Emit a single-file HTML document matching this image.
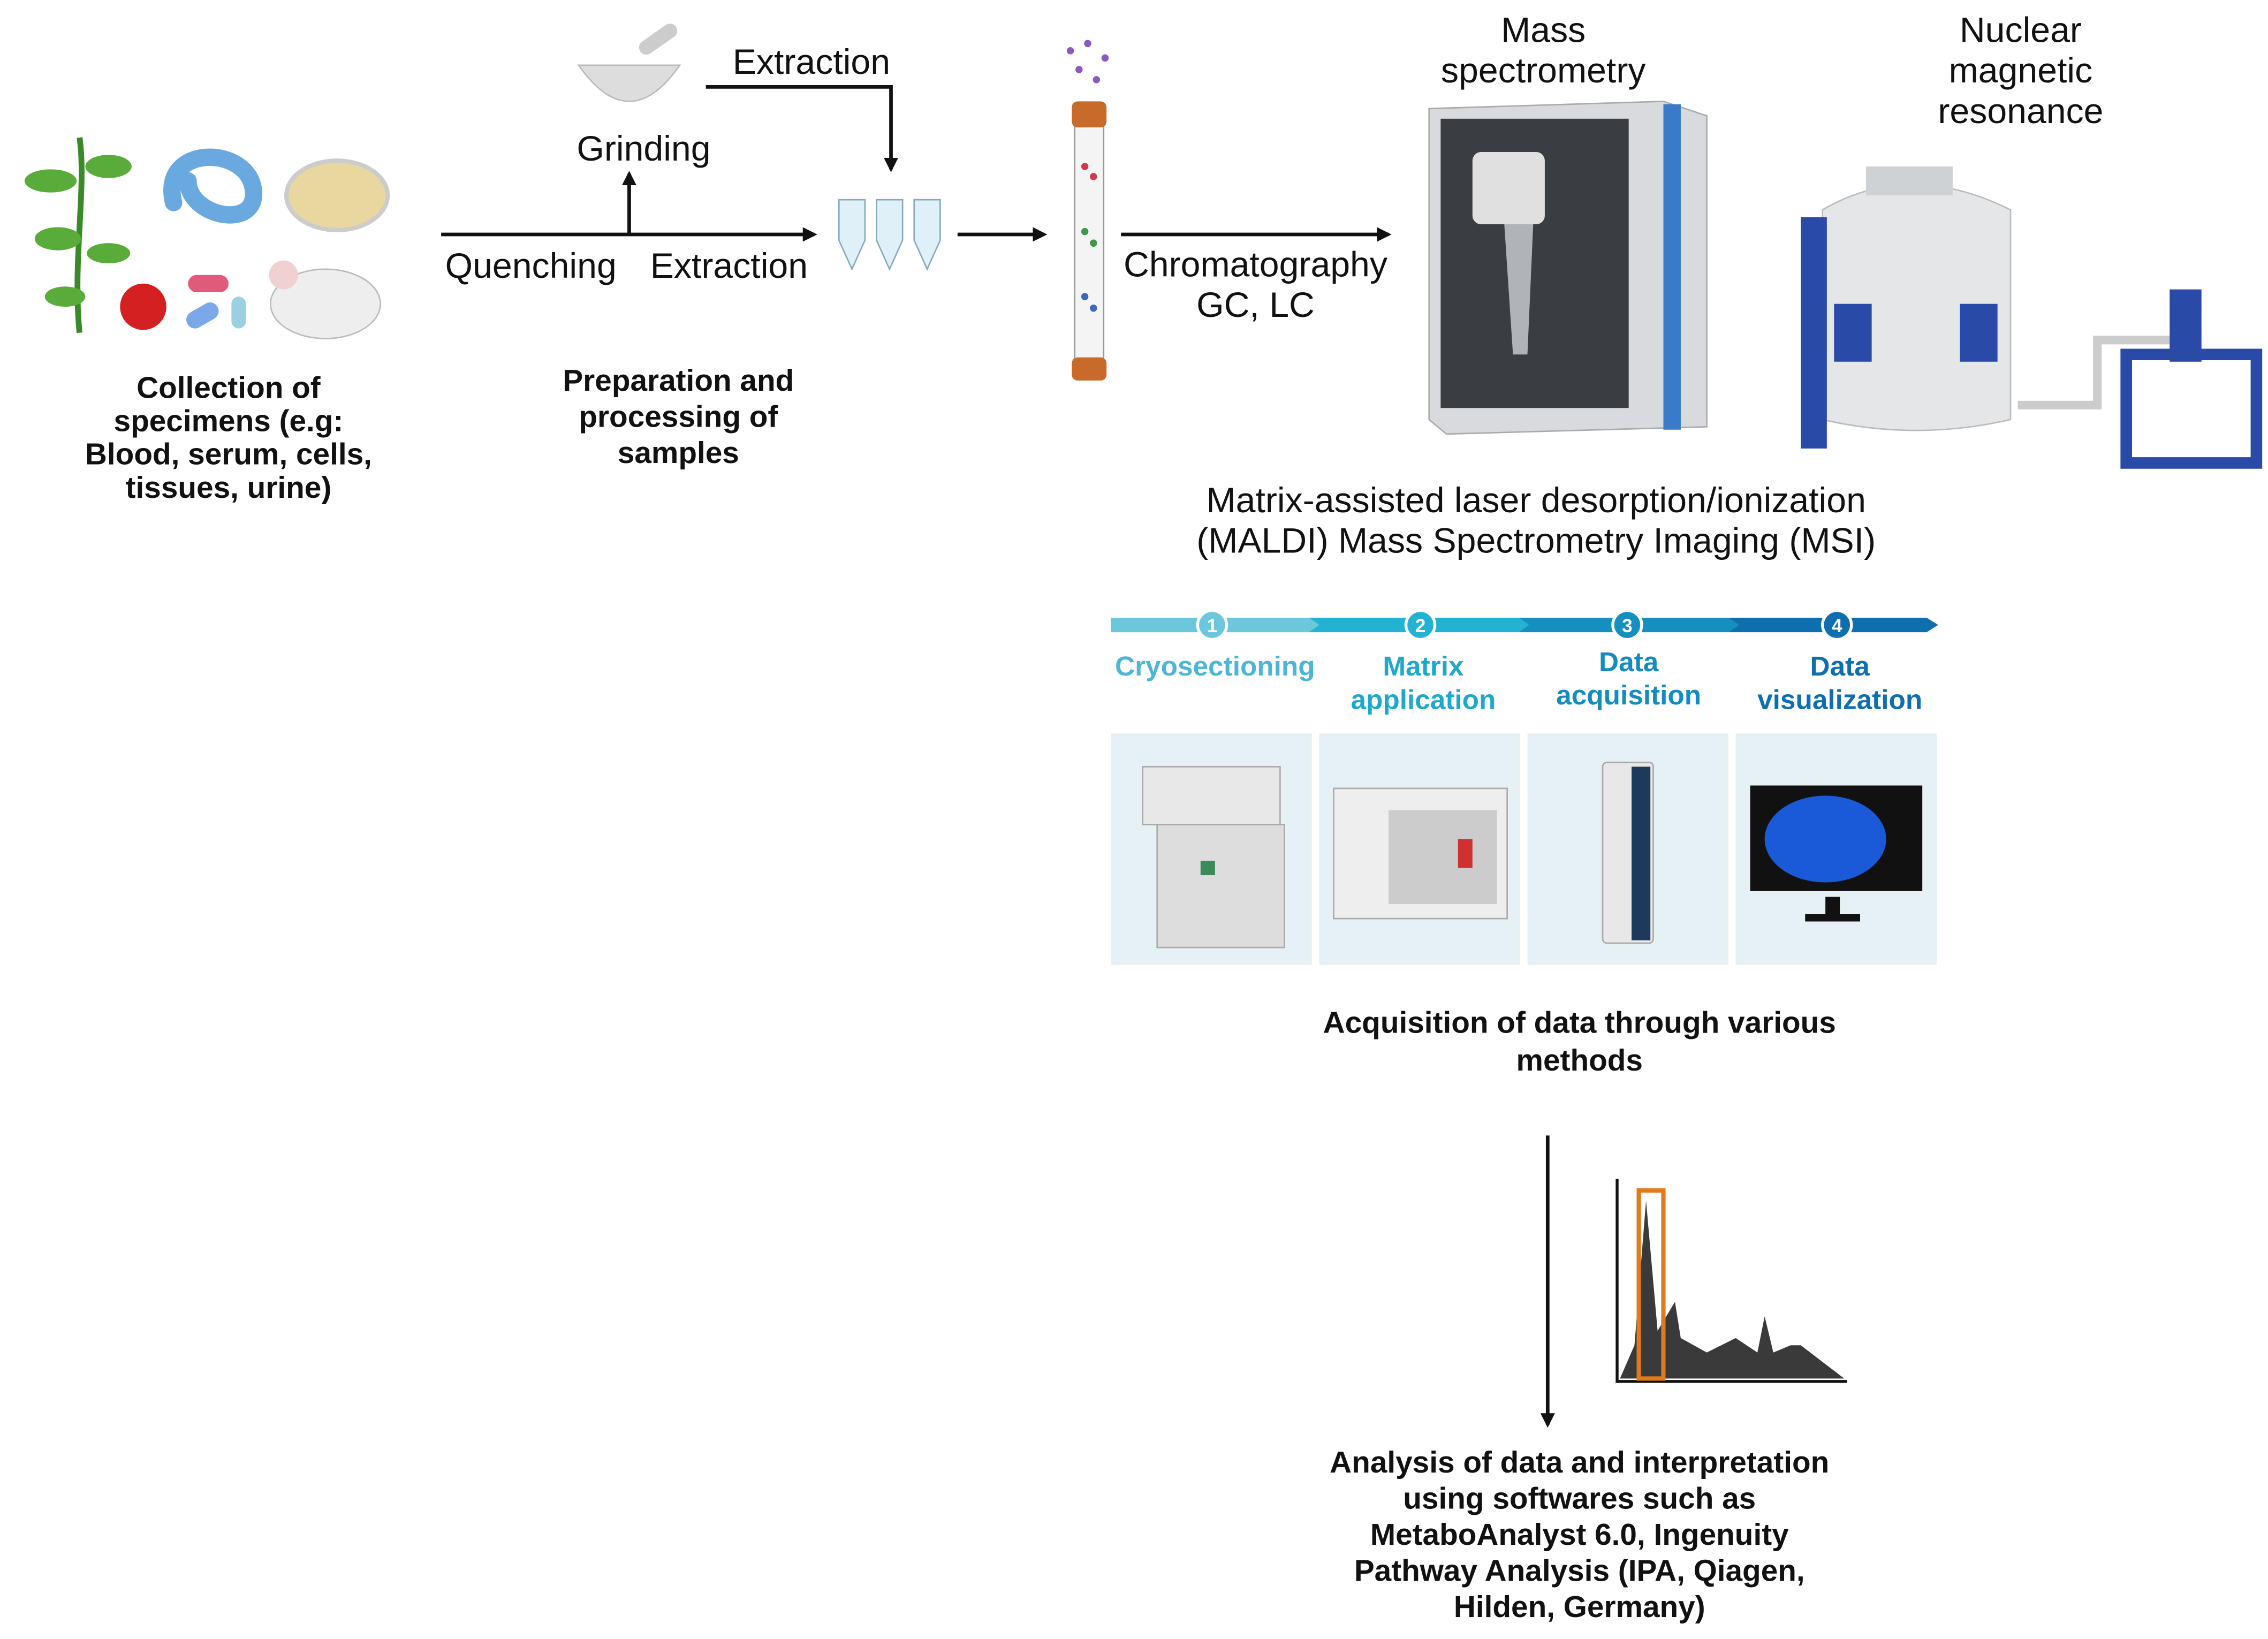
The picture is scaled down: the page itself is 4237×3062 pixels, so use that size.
<!DOCTYPE html>
<html><head><meta charset="utf-8"><style>
html,body{margin:0;padding:0;background:#fff;}
svg{display:block;}
text{font-family:"Liberation Sans",sans-serif;}
.r{font-size:24.5px;fill:#111;text-anchor:middle;}
.b{font-size:21px;font-weight:bold;fill:#111;text-anchor:middle;}
.c{font-size:19px;font-weight:bold;text-anchor:middle;}
</style></head><body>
<svg width="4237" height="3062" viewBox="0 0 1568 1133" xmlns="http://www.w3.org/2000/svg">
<defs><marker id="a" markerWidth="10" markerHeight="10" refX="8" refY="5" orient="auto" markerUnits="userSpaceOnUse"><path d="M0,0 L10,5 L0,10 Z" fill="#111"/></marker></defs>
<!-- specimens -->
<path d="M55,230 C50,180 60,130 55,95" stroke="#3a8a2a" stroke-width="4" fill="none"/>
<g fill="#5aac3a"><ellipse cx="35" cy="125" rx="18" ry="8"/><ellipse cx="75" cy="115" rx="16" ry="8"/><ellipse cx="40" cy="165" rx="16" ry="8"/><ellipse cx="75" cy="175" rx="15" ry="7"/><ellipse cx="45" cy="205" rx="14" ry="7"/></g>
<path d="M120,140 C110,100 170,100 175,130 C180,160 130,150 130,125" stroke="#6aa8e0" stroke-width="12" fill="none" stroke-linecap="round"/>
<ellipse cx="233" cy="135" rx="35" ry="24" fill="#e8d8a0" stroke="#ccc" stroke-width="3"/>
<circle cx="99" cy="212" r="16" fill="#d42020"/>
<g><rect x="130" y="190" width="28" height="12" rx="6" fill="#e05a7a"/><rect x="128" y="212" width="24" height="12" rx="6" fill="#7aa8e8" transform="rotate(-30 140 218)"/><rect x="160" y="205" width="10" height="22" rx="5" fill="#9ad0e0"/></g>
<ellipse cx="225" cy="210" rx="38" ry="24" fill="#eee" stroke="#bbb"/><circle cx="196" cy="190" r="10" fill="#f0d0d0"/>
<text class="b"><tspan x="158" y="275">Collection of</tspan><tspan x="158" y="298">specimens (e.g:</tspan><tspan x="158" y="321">Blood, serum, cells,</tspan><tspan x="158" y="344">tissues, urine)</tspan></text>
<!-- prep -->
<path d="M400,45 Q435,95 470,45 Z" fill="#ddd" stroke="#bbb"/><rect x="440" y="22" width="30" height="10" rx="5" fill="#ccc" transform="rotate(-35 455 27)"/>
<line x1="305" y1="162" x2="563" y2="162" stroke="#111" stroke-width="2.5" marker-end="url(#a)"/>
<path d="M435,162 L435,120" stroke="#111" stroke-width="2.5" marker-end="url(#a)"/>
<path d="M488,60 L616,60 L616,117" stroke="#111" stroke-width="2.5" fill="none" marker-end="url(#a)"/>
<text class="r" x="445" y="111">Grinding</text>
<text class="r" x="561" y="51">Extraction</text>
<text class="r" x="367" y="192">Quenching</text>
<text class="r" x="504" y="192">Extraction</text>
<text class="b"><tspan x="469" y="270">Preparation and</tspan><tspan x="469" y="295">processing of</tspan><tspan x="469" y="320">samples</tspan></text>
<g fill="#dff0f8" stroke="#8ab"><path d="M580,138 h18 v28 l-9,20 l-9,-20z"/><path d="M606,138 h18 v28 l-9,20 l-9,-20z"/><path d="M632,138 h18 v28 l-9,20 l-9,-20z"/></g>
<line x1="662" y1="162" x2="722" y2="162" stroke="#111" stroke-width="2.5" marker-end="url(#a)"/>
<!-- column -->
<rect x="743" y="75" width="20" height="185" fill="#f4f4f4" stroke="#999"/>
<rect x="741" y="70" width="24" height="18" rx="4" fill="#c86a2a"/><rect x="741" y="247" width="24" height="16" rx="4" fill="#c86a2a"/>
<g fill="#d03a4a"><circle cx="750" cy="115" r="2.5"/><circle cx="756" cy="122" r="2.5"/></g><g fill="#3a9a4a"><circle cx="750" cy="160" r="2.5"/><circle cx="756" cy="168" r="2.5"/></g><g fill="#3a6ac0"><circle cx="750" cy="205" r="2.5"/><circle cx="756" cy="213" r="2.5"/></g>
<g fill="#8a5ac0"><circle cx="740" cy="35" r="2.5"/><circle cx="752" cy="30" r="2.5"/><circle cx="764" cy="40" r="2.5"/><circle cx="746" cy="48" r="2.5"/><circle cx="758" cy="55" r="2.5"/></g>
<line x1="775" y1="162" x2="960" y2="162" stroke="#111" stroke-width="2.5" marker-end="url(#a)"/>
<text class="r" x="868" y="191">Chromatography</text><text class="r" x="868" y="219">GC, LC</text>
<!-- mass spec -->
<text class="r" x="1067" y="29">Mass</text><text class="r" x="1067" y="57">spectrometry</text>
<path d="M988,75 L1150,70 L1180,80 L1180,295 L1000,300 L988,290Z" fill="#d8dadd" stroke="#aaa"/>
<rect x="996" y="82" width="130" height="200" fill="#3a3d42"/>
<rect x="1150" y="72" width="12" height="225" fill="#3a7ac8"/>
<rect x="1018" y="105" width="50" height="50" rx="6" fill="#e0e0e0"/><path d="M1040,155 L1060,155 L1056,245 L1046,245Z" fill="#b0b4b8"/>
<!-- NMR -->
<text class="r" x="1397" y="29">Nuclear</text><text class="r" x="1397" y="57">magnetic</text><text class="r" x="1397" y="85">resonance</text>
<path d="M1260,145 Q1320,110 1390,145 L1390,290 Q1325,305 1260,290Z" fill="#e4e6e8" stroke="#bbb"/>
<rect x="1245" y="150" width="18" height="160" fill="#2a4aa8"/><rect x="1268" y="210" width="26" height="40" fill="#2a4aa8"/><rect x="1355" y="210" width="26" height="40" fill="#2a4aa8"/>
<rect x="1290" y="115" width="60" height="20" fill="#cfd2d5"/>
<path d="M1395,280 L1450,280 L1450,235 L1500,235" stroke="#ccc" stroke-width="6" fill="none"/>
<path d="M1470,245 L1560,245 L1560,320 L1470,320Z" fill="none" stroke="#2a4aa8" stroke-width="8"/><rect x="1500" y="200" width="22" height="50" fill="#2a4aa8"/>
<!-- MALDI -->
<text class="r" x="1062" y="354">Matrix-assisted laser desorption/ionization</text>
<text class="r" x="1062" y="382">(MALDI) Mass Spectrometry Imaging (MSI)</text>
<path d="M768,427 L905,427 L912,432 L905,437 L768,437Z" fill="#6cc6dc"/>
<path d="M905,427 L1050,427 L1057,432 L1050,437 L905,437 L912,432Z" fill="#24b2d2"/>
<path d="M1050,427 L1195,427 L1202,432 L1195,437 L1050,437 L1057,432Z" fill="#158fc0"/>
<path d="M1195,427 L1332,427 L1340,432 L1332,437 L1195,437 L1202,432Z" fill="#0f6eae"/>
<g font-size="13" font-weight="bold" text-anchor="middle" fill="#fff">
<circle cx="838" cy="432" r="10" fill="#6cc6dc" stroke="#fff" stroke-width="2"/><text x="838" y="437">1</text>
<circle cx="982" cy="432" r="10" fill="#24b2d2" stroke="#fff" stroke-width="2"/><text x="982" y="437">2</text>
<circle cx="1125" cy="432" r="10" fill="#158fc0" stroke="#fff" stroke-width="2"/><text x="1125" y="437">3</text>
<circle cx="1270" cy="432" r="10" fill="#0f6eae" stroke="#fff" stroke-width="2"/><text x="1270" y="437">4</text></g>
<text class="c" x="840" y="467" fill="#4bb6d6">Cryosectioning</text>
<text class="c" fill="#1fa8cc"><tspan x="984" y="467">Matrix</tspan><tspan x="984" y="490">application</tspan></text>
<text class="c" fill="#158cc0"><tspan x="1126" y="464">Data</tspan><tspan x="1126" y="487">acquisition</tspan></text>
<text class="c" fill="#0f6eae"><tspan x="1272" y="467">Data</tspan><tspan x="1272" y="490">visualization</tspan></text>
<g fill="#e6f1f6"><rect x="768" y="507" width="139" height="160"/><rect x="912" y="507" width="139" height="160"/><rect x="1056" y="507" width="139" height="160"/><rect x="1200" y="507" width="139" height="160"/></g>
<rect x="790" y="530" width="95" height="40" fill="#e8e8e8" stroke="#aaa"/><rect x="800" y="570" width="88" height="85" fill="#ddd" stroke="#aaa"/><rect x="830" y="595" width="10" height="10" fill="#3a8a5a"/>
<rect x="922" y="545" width="120" height="90" fill="#eee" stroke="#aaa"/><rect x="960" y="560" width="75" height="65" fill="#ccc"/><rect x="1008" y="580" width="10" height="20" fill="#d03030"/>
<rect x="1108" y="527" width="35" height="125" rx="3" fill="#e8e8e8" stroke="#aaa"/><rect x="1128" y="530" width="13" height="120" fill="#1e3a5a"/>
<rect x="1210" y="543" width="119" height="73" fill="#111"/><ellipse cx="1262" cy="580" rx="42" ry="30" fill="#1a5ad8"/><rect x="1262" y="620" width="10" height="14" fill="#111"/><rect x="1248" y="632" width="38" height="5" fill="#111"/>
<text class="b"><tspan x="1092" y="714">Acquisition of data through various</tspan><tspan x="1092" y="740">methods</tspan></text>
<line x1="1070" y1="785" x2="1070" y2="985" stroke="#111" stroke-width="2.5" marker-end="url(#a)"/>
<path d="M1118,815 L1118,955 L1277,955" stroke="#111" stroke-width="2" fill="none"/>
<path d="M1120,953 L1130,930 L1138,830 L1146,920 L1158,900 L1162,925 L1180,935 L1200,925 L1215,935 L1220,910 L1226,935 L1238,930 L1245,930 L1275,953Z" fill="#3a3a3a"/>
<rect x="1133" y="823" width="17" height="130" fill="none" stroke="#e07a1a" stroke-width="3"/>
<text class="b"><tspan x="1092" y="1018">Analysis of data and interpretation</tspan><tspan x="1092" y="1043">using softwares such as</tspan><tspan x="1092" y="1068">MetaboAnalyst 6.0, Ingenuity</tspan><tspan x="1092" y="1093">Pathway Analysis (IPA, Qiagen,</tspan><tspan x="1092" y="1118">Hilden, Germany)</tspan></text>
</svg>
</body></html>
